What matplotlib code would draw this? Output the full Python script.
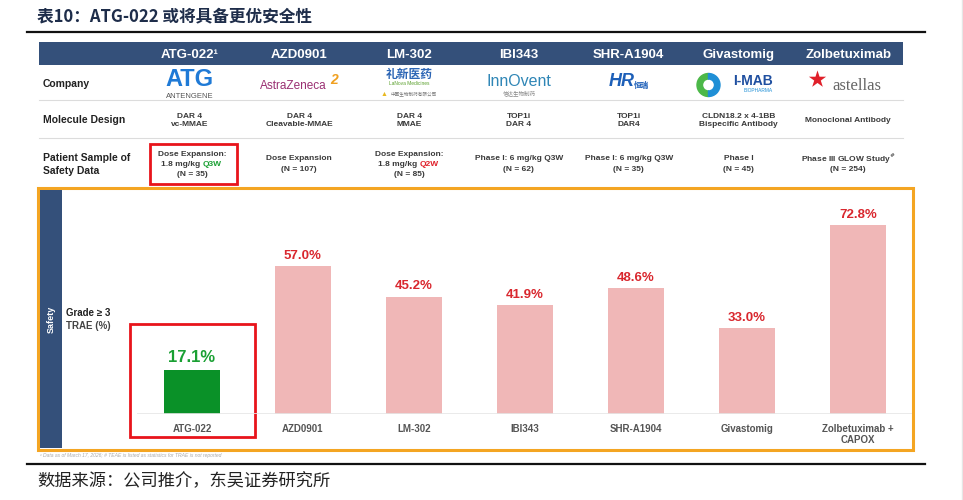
import numpy as np
import matplotlib
matplotlib.use('Agg')
import matplotlib.pyplot as plt
from matplotlib.patches import Rectangle, Wedge

plt.rcParams['font.family'] = ['Liberation Sans', 'Noto Sans CJK SC', 'DejaVu Sans']

# 数据
drugs = ['ATG-022¹', 'AZD0901', 'LM-302', 'IBI343', 'SHR-A1904', 'Givastomig', 'Zolbetuximab']
bar_labels = ['ATG-022', 'AZD0901', 'LM-302', 'IBI343', 'SHR-A1904', 'Givastomig',
              'Zolbetuximab +\nCAPOX']
trae = [17.1, 57.0, 45.2, 41.9, 48.6, 33.0, 72.8]
molecule = ['DAR 4\nvc-MMAE', 'DAR 4\nCleavable-MMAE', 'DAR 4\nMMAE', 'TOP1i\nDAR 4',
            'TOP1i\nDAR4', 'CLDN18.2 x 4-1BB\nBispecific Antibody', 'Monoclonal Antibody']
sample_head = ['Dose Expansion:', 'Dose Expansion', 'Dose Expansion:', 'Phase I: 6 mg/kg Q3W',
               'Phase I: 6 mg/kg Q3W', 'Phase I', 'Phase III GLOW Study$^{\\#}$']
sample_dose = ['1.8 mg/kg', '', '1.8 mg/kg', '', '', '', '']
sample_freq = ['Q3W', '', 'Q2W', '', '', '', '']
sample_n = ['(N = 35)', '(N = 107)', '(N = 85)', '(N = 62)', '(N = 35)', '(N = 45)', '(N = 254)']

navy = '#34507a'
green = '#0a9128'
red = '#d9272e'
pink = '#f0b7b7'
txt = '#3a3a3a'

fig = plt.figure(figsize=(9.63, 5.0), dpi=100)

# 背景坐标系：以像素为单位，y 轴向下
bg = fig.add_axes([0, 0, 1, 1])
bg.set_xlim(0, 963)
bg.set_ylim(500, 0)
bg.axis('off')

# 柱状图
ax = fig.add_axes([137 / 963, 86 / 500, 775 / 963, 224 / 500])
ax.set_facecolor('none')
x = np.arange(len(trae))
bar_colors = [green] + [pink] * (len(trae) - 1)
ax.bar(x, trae, width=0.5, color=bar_colors)
ax.set_xlim(-0.495, 6.486)
ax.set_ylim(0, 86.2)
ax.axhline(0, color='#e6e6e6', lw=1.2)
for s in ax.spines.values():
    s.set_visible(False)
ax.set_yticks([])
ax.set_xticks(x, bar_labels, fontsize=7, color='#555555', fontweight='bold')
ax.tick_params(length=0, pad=7)

for i, v in enumerate(trae):
    first = i == 0
    ax.annotate(f'{v:.1f}%', (i, v), xytext=(0, 3), textcoords='offset points',
                ha='center', va='bottom', fontweight='bold',
                fontsize=12 if first else 9.5, color='#1aa033' if first else red)


def col_x(i):
    # 表格列中心（像素）
    return 189.5 + 109.8 * i


# 标题与分隔线
bg.text(37, 16, '表10：ATG-022 或将具备更优安全性', family=['Noto Sans CJK SC'],
        fontweight='bold', fontsize=12, color='#1e2d4a', va='center')
bg.plot([27, 925], [32, 32], color='#111111', lw=1.6)
bg.plot([27, 925], [464, 464], color='#111111', lw=1.6)
bg.plot([962, 962], [0, 500], color='#e6e6e6', lw=1)
bg.text(37, 481, '数据来源：公司推介，东吴证券研究所', family=['Noto Sans CJK SC'],
        fontsize=12.4, color='#222222', va='center')

# 表头
bg.add_patch(Rectangle((39, 42), 864, 23, color=navy, lw=0))
for i, d in enumerate(drugs):
    bg.text(col_x(i), 57.8, d, ha='center', va='baseline', color='white',
            fontweight='bold', fontsize=9.5)

bg.plot([39, 903], [100, 100], color='#dcdcdc', lw=0.8)
bg.plot([39, 903], [138, 138], color='#dcdcdc', lw=0.8)

# 行标题
row_kw = dict(fontweight='bold', fontsize=7.5, color='#222222', va='center')
bg.text(43, 84, 'Company', **row_kw)
bg.text(43, 120, 'Molecule Design', **row_kw)
bg.text(43, 158, 'Patient Sample of', **row_kw)
bg.text(43, 171, 'Safety Data', **row_kw)

# 公司标志（以文字近似）
c = col_x(0)
bg.text(c, 80, 'ATG', ha='center', va='center', fontweight='bold', fontsize=17, color='#1f7ad6')
bg.text(c, 96, 'ANTENGENE', ha='center', va='center', fontsize=5.5, color='#555555')
c = col_x(1)
bg.text(c - 6, 86, 'AstraZeneca', ha='center', va='center', fontsize=8.5, color='#9a2f72')
bg.text(c + 35, 80, '2', ha='center', va='center', fontsize=10, fontweight='bold',
        style='italic', color='#f0a020')
c = col_x(2)
bg.text(c, 75, '礼新医药', ha='center', va='center', fontsize=8.5, fontweight='bold', color='#2d66b5')
bg.text(c, 83.5, 'LaNova Medicines', ha='center', va='center', fontsize=3.5, color='#5aa02c')
bg.text(c - 25, 94, '▲', ha='center', va='center', fontsize=5, color='#e8b820')
bg.text(c + 5, 94, '中国生物制药有限公司', ha='center', va='center', fontsize=3.3, color='#777777')
c = col_x(3)
bg.text(c, 81, 'InnOvent', ha='center', va='center', fontsize=11.5, color='#2f86b6')
bg.text(c, 93, '信达生物制药', ha='center', va='center', fontsize=4, color='#888888')
c = col_x(4)
bg.text(c - 7, 82, 'HR', ha='center', va='center', fontsize=13, fontweight='bold',
        style='italic', color='#1d5fb8')
bg.text(c + 13, 86, '恒瑞', ha='center', va='center', fontsize=5.5, fontweight='bold', color='#1d5fb8')
c = col_x(5)
bg.add_patch(Wedge((c - 30, 85), 11.5, 90, 270, width=5.5, color='#4cb848'))
bg.add_patch(Wedge((c - 30, 85), 11.5, 270, 90, width=5.5, color='#1f8fd6'))
bg.text(c + 14, 81, 'I-MAB', ha='center', va='center', fontsize=10, fontweight='bold', color='#1f4fa0')
bg.text(c + 20, 91, 'BIOPHARMA', ha='center', va='center', fontsize=3.5, color='#1f8fd6')
c = col_x(6)
bg.scatter([c - 31], [79], marker='*', s=170, color='#e0202a', lw=0)
bg.text(c + 9, 86, 'astellas', ha='center', va='center', fontsize=12,
        family=['Liberation Serif'], color='#666666')

# 分子设计
for i, m in enumerate(molecule):
    bg.text(col_x(i), 120.5, m, ha='center', va='center', fontsize=6, fontweight='bold',
            color=txt, linespacing=1.3)

# 安全性数据样本
for i in range(len(drugs)):
    c = col_x(i) + (2.5 if i == 0 else 0)
    kw = dict(ha='center', va='center', fontsize=6, fontweight='bold', color=txt)
    if sample_dose[i]:
        bg.text(c, 154, sample_head[i], **kw)
        bg.annotate(sample_dose[i], (c, 164), xytext=(8, 0), textcoords='offset pixels',
                    ha='right', va='center', fontsize=6, fontweight='bold', color=txt)
        fc = '#1aa033' if sample_freq[i] == 'Q3W' else '#e0202a'
        bg.annotate(sample_freq[i], (c, 164), xytext=(10.5, 0), textcoords='offset pixels',
                    ha='left', va='center', fontsize=6, fontweight='bold', color=fc)
        bg.text(c, 174, sample_n[i], **kw)
    else:
        bg.text(c, 159, sample_head[i], **kw)
        bg.text(c, 169.5, sample_n[i], **kw)

bg.add_patch(Rectangle((150, 144), 87, 40, fill=False, ec='#e8141b', lw=2))

# 安全性区域
bg.add_patch(Rectangle((38, 188), 875, 262, fill=False, ec='#f4a522', lw=2.2))
bg.add_patch(Rectangle((40, 190), 22, 258, color=navy, lw=0))
bg.text(51, 319, 'Safety', rotation=90, ha='center', va='center', color='white',
        fontweight='bold', fontsize=6.5)
bg.text(66, 313, 'Grade ≥ 3', fontweight='bold', fontsize=7, color='#222222', va='center')
bg.text(66, 326, 'TRAE (%)', fontweight='bold', fontsize=7, color='#444444', va='center')
c0 = ax.transData.transform((0, 0))[0]
bg.add_patch(Rectangle((c0 - 62, 324), 125, 113, fill=False, ec='#e8141b', lw=2))
bg.text(40, 456, '¹ Data as of March 17, 2026; # TEAE is listed as statistics for TRAE is not reported',
        fontsize=3.6, style='italic', color='#aaaaaa', va='center')

fig.savefig('out.png', dpi=100)
